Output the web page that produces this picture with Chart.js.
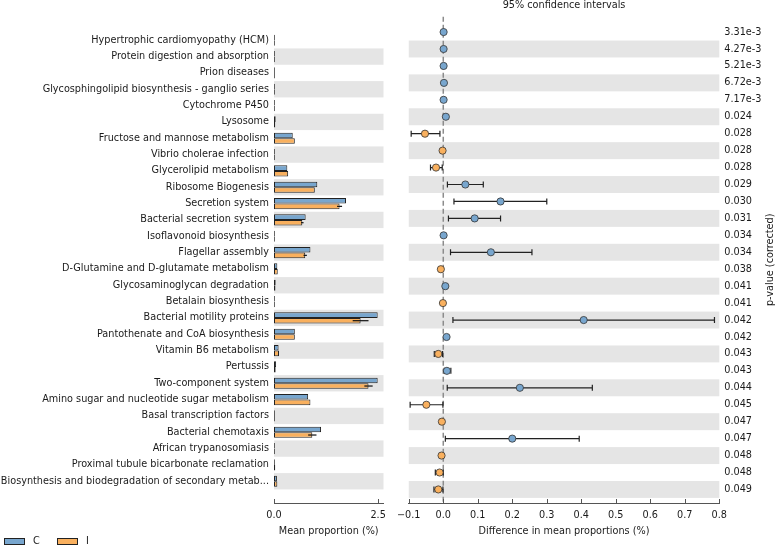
<!DOCTYPE html>
<html>
<head>
<meta charset="utf-8">
<script src="https://cdn.jsdelivr.net/npm/chart.js@4.4.1/dist/chart.umd.min.js"></script>
<style>
  body { margin: 0; background: #fff; }
  #wrap { position: relative; width: 778px; height: 547px; }
  canvas { position: absolute; top: 0; }
  #left { left: 0; }
  #right { left: 390px; }
</style>
</head>
<body>
<div id="wrap">
  <canvas id="left" width="395" height="547"></canvas>
  <canvas id="right" width="388" height="547"></canvas>
</div>
<script>
const pathways = [
    'Hypertrophic cardiomyopathy (HCM)',
    'Protein digestion and absorption',
    'Prion diseases',
    'Glycosphingolipid biosynthesis - ganglio series',
    'Cytochrome P450',
    'Lysosome',
    'Fructose and mannose metabolism',
    'Vibrio cholerae infection',
    'Glycerolipid metabolism',
    'Ribosome Biogenesis',
    'Secretion system',
    'Bacterial secretion system',
    'Isoflavonoid biosynthesis',
    'Flagellar assembly',
    'D-Glutamine and D-glutamate metabolism',
    'Glycosaminoglycan degradation',
    'Betalain biosynthesis',
    'Bacterial motility proteins',
    'Pantothenate and CoA biosynthesis',
    'Vitamin B6 metabolism',
    'Pertussis',
    'Two-component system',
    'Amino sugar and nucleotide sugar metabolism',
    'Basal transcription factors',
    'Bacterial chemotaxis',
    'African trypanosomiasis',
    'Proximal tubule bicarbonate reclamation',
    'Biosynthesis and biodegradation of secondary metab...'
];

// mean proportion (%) per group
const meanC = [0.02, 0.02, 0.02, 0.02, 0.02, 0.04, 0.45, 0.02, 0.32, 1.04, 1.73, 0.76, 0.02, 0.875,
    0.08, 0.04, 0.02, 2.49, 0.50, 0.11, 0.05, 2.49, 0.82, 0.02, 1.13, 0.02, 0.02, 0.07];
const meanI = [0.02, 0.02, 0.02, 0.02, 0.02, 0.03, 0.50, 0.02, 0.34, 0.98, 1.575, 0.68, 0.02, 0.75,
    0.09, 0.035, 0.02, 2.08, 0.50, 0.12, 0.04, 2.27, 0.875, 0.02, 0.92, 0.02, 0.03, 0.08];
const errI = [0, 0, 0, 0, 0, 0, 0, 0, 0, 0, 0.06, 0.03, 0, 0.04,
    0, 0, 0, 0.19, 0, 0, 0, 0.1, 0, 0, 0.1, 0, 0, 0];

// difference in mean proportions with 95% CI
const diffMean = [0.001, 0.001, 0.001, 0.002, 0.001, 0.0075, -0.053, -0.002, -0.021, 0.064, 0.166, 0.091, 0.001, 0.138,
    -0.007, 0.006, -0.001, 0.407, 0.0095, -0.0144, 0.0105, 0.222, -0.049, -0.004, 0.200, -0.005, -0.0106, -0.0144];
const ciLow = [0, 0, 0, 0.001, 0, 0.005, -0.093, -0.004, -0.037, 0.012, 0.031, 0.015, 0, 0.021,
    -0.010, 0.003, -0.003, 0.028, 0.006, -0.026, 0.003, 0.0115, -0.096, -0.006, 0.006, -0.008, -0.023, -0.027];
const ciHigh = [0.002, 0.002, 0.002, 0.003, 0.002, 0.010, -0.0097, 0, -0.003, 0.116, 0.300, 0.166, 0.002, 0.257,
    -0.004, 0.009, 0.001, 0.786, 0.013, -0.002, 0.022, 0.432, -0.001, -0.002, 0.394, -0.002, 0, -0.001];
const pValues = ['3.31e-3', '4.27e-3', '5.21e-3', '6.72e-3', '7.17e-3', '0.024', '0.028', '0.028', '0.028', '0.029',
    '0.030', '0.031', '0.034', '0.034', '0.038', '0.041', '0.041', '0.042', '0.042', '0.043',
    '0.043', '0.044', '0.045', '0.047', '0.047', '0.048', '0.048', '0.049'];

const meanTicks = [0, 2.5];
const diffTicks = [-0.1, 0.0, 0.1, 0.2, 0.3, 0.4, 0.5, 0.6, 0.7, 0.8];

const BLUE = '#78a6ce';
const ORANGE = '#f9b05e';
const TEXT = '#1a1a1a';
const AXIS = '#555';
const FONT = { family: 'DejaVu Sans', size: 9.7 };
const Y_MIN = -0.91, Y_MAX = 27.8;

Chart.defaults.font.family = 'DejaVu Sans';
Chart.defaults.color = TEXT;

const rowTicks = s => { s.ticks = pathways.map((_, i) => ({ value: i })); };

const bandPlugin = {
    id: 'bands',
    beforeDatasetsDraw(chart) {
        const { ctx, chartArea, scales: { y } } = chart;
        ctx.save();
        ctx.fillStyle = '#e5e5e5';
        pathways.forEach((_, i) => {
            if (i % 2 === 1) {
                const t = y.getPixelForValue(i - 0.5);
                const b = y.getPixelForValue(i + 0.5);
                ctx.fillRect(chartArea.left, t, chartArea.right - chartArea.left, b - t);
            }
        });
        ctx.restore();
    }
};

const innerTicks = {
    id: 'innerTicks',
    afterDraw(chart) {
        const { ctx, scales: { x } } = chart;
        ctx.save();
        ctx.strokeStyle = AXIS;
        ctx.lineWidth = 1;
        x.ticks.forEach(t => {
            const px = Math.round(x.getPixelForValue(t.value)) + 0.5;
            ctx.beginPath();
            ctx.moveTo(px, x.top);
            ctx.lineTo(px, x.top - 4);
            ctx.stroke();
        });
        ctx.restore();
    }
};

const barErrors = {
    id: 'barErrors',
    afterDatasetsDraw(chart) {
        const { ctx, scales: { x } } = chart;
        const meta = chart.getDatasetMeta(1);
        ctx.save();
        ctx.strokeStyle = '#111';
        ctx.lineWidth = 1.2;
        meta.data.forEach((bar, i) => {
            if (!errI[i]) return;
            const x1 = x.getPixelForValue(meanI[i] - errI[i]);
            const x2 = x.getPixelForValue(meanI[i] + errI[i]);
            ctx.beginPath();
            ctx.moveTo(x1, bar.y);
            ctx.lineTo(x2, bar.y);
            ctx.stroke();
        });
        ctx.restore();
    }
};

const legendPlugin = {
    id: 'groupLegend',
    afterDraw(chart) {
        const { ctx } = chart;
        const spots = [4, 57];
        ctx.save();
        ctx.font = '9.7px "DejaVu Sans"';
        ctx.textBaseline = 'middle';
        chart.data.datasets.forEach((ds, k) => {
            const lx = spots[k];
            ctx.fillStyle = ds.backgroundColor;
            ctx.fillRect(lx, 538, 20, 6);
            ctx.strokeStyle = '#222';
            ctx.strokeRect(lx + 0.5, 538.5, 20, 6);
            ctx.fillStyle = TEXT;
            ctx.fillText(ds.label, lx + 29, 541.5);
        });
        ctx.restore();
    }
};

new Chart(document.getElementById('left'), {
    type: 'bar',
    data: {
        datasets: [
            {
                label: 'C',
                data: meanC.map((v, i) => ({ x: v, y: i })),
                backgroundColor: BLUE,
                borderColor: '#222',
                borderWidth: 1,
                borderSkipped: false
            },
            {
                label: 'I',
                data: meanI.map((v, i) => ({ x: v, y: i })),
                backgroundColor: ORANGE,
                borderColor: '#222',
                borderWidth: 1,
                borderSkipped: false
            }
        ]
    },
    options: {
        indexAxis: 'y',
        responsive: false,
        animation: false,
        devicePixelRatio: 1,
        categoryPercentage: 0.68,
        barPercentage: 1,
        layout: { padding: { top: 16.7, right: 11.5 } },
        plugins: {
            legend: { display: false },
            tooltip: { enabled: false }
        },
        scales: {
            x: {
                type: 'linear',
                min: 0,
                max: 2.63,
                afterBuildTicks: s => { s.ticks = meanTicks.map(v => ({ value: v })); },
                afterFit: s => { s.height = 44; },
                ticks: { font: FONT, color: TEXT, padding: 7, maxRotation: 0, callback: v => v.toFixed(1) },
                grid: { display: false, drawTicks: false },
                border: { color: AXIS },
                title: { display: true, text: 'Mean proportion (%)', font: FONT, color: TEXT, padding: { top: 0, bottom: 9.5 } }
            },
            y: {
                type: 'linear',
                reverse: true,
                min: Y_MIN,
                max: Y_MAX,
                afterBuildTicks: rowTicks,
                afterFit: s => { s.width = 274; },
                ticks: { font: FONT, color: TEXT, padding: 5, autoSkip: false, callback: v => pathways[v] },
                grid: { display: false, drawTicks: false },
                border: { display: false }
            }
        }
    },
    plugins: [bandPlugin, innerTicks, barErrors, legendPlugin]
});

const ciPlugin = {
    id: 'ciLines',
    beforeDatasetsDraw(chart) {
        const { ctx, chartArea, scales: { x, y } } = chart;
        ctx.save();
        // dashed zero line
        const zx = x.getPixelForValue(0);
        ctx.strokeStyle = '#8c8c8c';
        ctx.lineWidth = 1.5;
        ctx.setLineDash([5, 3]);
        ctx.beginPath();
        ctx.moveTo(zx, chartArea.top);
        ctx.lineTo(zx, chartArea.bottom);
        ctx.stroke();
        ctx.setLineDash([]);
        // confidence intervals
        ctx.strokeStyle = '#222';
        ctx.lineWidth = 1.2;
        diffMean.forEach((_, i) => {
            const py = y.getPixelForValue(i);
            const x1 = x.getPixelForValue(ciLow[i]);
            const x2 = x.getPixelForValue(ciHigh[i]);
            ctx.beginPath();
            ctx.moveTo(x1, py);
            ctx.lineTo(x2, py);
            ctx.moveTo(x1, py - 3);
            ctx.lineTo(x1, py + 3);
            ctx.moveTo(x2, py - 3);
            ctx.lineTo(x2, py + 3);
            ctx.stroke();
        });
        ctx.restore();
    },
    afterDraw(chart) {
        const { ctx, chartArea } = chart;
        ctx.save();
        ctx.font = '9.7px "DejaVu Sans"';
        ctx.fillStyle = TEXT;
        ctx.textAlign = 'center';
        ctx.textBaseline = 'middle';
        ctx.translate(380, (chartArea.top + chartArea.bottom) / 2);
        ctx.rotate(-Math.PI / 2);
        ctx.fillText('p-value (corrected)', 0, 0);
        ctx.restore();
    }
};

new Chart(document.getElementById('right'), {
    type: 'scatter',
    data: {
        datasets: [{
            label: 'Difference',
            data: diffMean.map((v, i) => ({ x: v, y: i })),
            pointBackgroundColor: diffMean.map(v => v >= 0 ? BLUE : ORANGE),
            pointBorderColor: '#333',
            pointBorderWidth: 0.8,
            pointRadius: 3.6
        }]
    },
    options: {
        responsive: false,
        animation: false,
        devicePixelRatio: 1,
        layout: { padding: { left: 16 } },
        plugins: {
            legend: { display: false },
            tooltip: { enabled: false },
            title: {
                display: true,
                text: '95% confidence intervals',
                fullSize: false,
                color: TEXT,
                font: { family: 'DejaVu Sans', size: 9.7, weight: 'normal' },
                padding: { top: 0, bottom: 5 }
            }
        },
        scales: {
            x: {
                type: 'linear',
                min: -0.1,
                max: 0.8,
                afterBuildTicks: s => { s.ticks = diffTicks.map(v => ({ value: v })); },
                afterFit: s => { s.height = 44; },
                ticks: {
                    font: FONT, color: TEXT, padding: 7, maxRotation: 0,
                    callback: v => (v < 0 ? '\u2212' : '') + Math.abs(v).toFixed(1)
                },
                grid: { display: false, drawTicks: false },
                border: { color: AXIS },
                title: { display: true, text: 'Difference in mean proportions (%)', font: FONT, color: TEXT, padding: { top: 0, bottom: 9.5 } }
            },
            y: {
                type: 'linear',
                display: false,
                reverse: true,
                min: Y_MIN,
                max: Y_MAX
            },
            p: {
                type: 'linear',
                position: 'right',
                reverse: true,
                min: Y_MIN,
                max: Y_MAX,
                afterBuildTicks: rowTicks,
                afterFit: s => { s.width = 58.7; },
                ticks: { font: FONT, color: TEXT, padding: 5, autoSkip: false, callback: v => pValues[v] },
                grid: { display: false, drawTicks: false },
                border: { display: false }
            }
        }
    },
    plugins: [bandPlugin, innerTicks, ciPlugin]
});
</script>
</body>
</html>
